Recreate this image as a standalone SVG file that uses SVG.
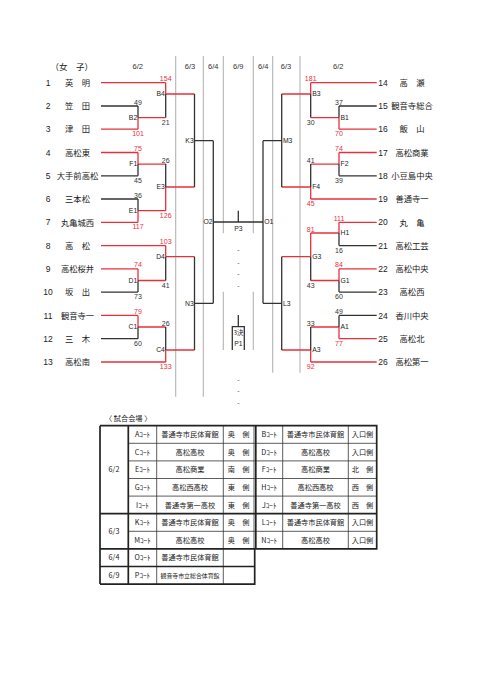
<svg xmlns="http://www.w3.org/2000/svg" width="481" height="680" viewBox="0 0 481 680">
<style>
.bg{fill:#fff}
.grid{stroke:#b4b4b4;stroke-width:1.1;fill:none}
.blk{stroke:#333;stroke-width:1.3;fill:none}
.red{stroke:#e8303a;stroke-width:1.3;fill:none}
.num{font-family:"Liberation Sans",Arial,sans-serif;font-size:8.5px;fill:#222;text-anchor:middle}
.name{font-family:"Noto Sans CJK JP",sans-serif;font-size:8.3px;fill:#222;text-anchor:middle}
.hdr{font-family:"Liberation Sans",Arial,sans-serif;font-size:7.5px;fill:#333;text-anchor:middle}
.sc{font-family:"Liberation Sans Narrow","Liberation Sans",Arial,sans-serif;font-size:7px;fill:#333;text-anchor:middle}
.sr{fill:#e8303a}
.ml{font-family:"Liberation Sans Narrow","Liberation Sans",Arial,sans-serif;font-size:6.8px;fill:#222;text-anchor:end}
.mr{font-family:"Liberation Sans Narrow","Liberation Sans",Arial,sans-serif;font-size:6.8px;fill:#222;text-anchor:start}
.mc{font-family:"Liberation Sans Narrow","Liberation Sans",Arial,sans-serif;font-size:6.8px;fill:#222;text-anchor:middle}
.dash{font-family:"Liberation Sans",Arial,sans-serif;font-size:7px;fill:#555;text-anchor:middle}
.tb{font-family:"Noto Sans CJK JP",sans-serif;font-size:7.2px;fill:#222;text-anchor:middle}
.tbs{font-family:"Noto Sans CJK JP",sans-serif;font-size:5.9px;fill:#222;text-anchor:middle}
.tl{stroke:#333;stroke-width:0.8;fill:none}
.tt{stroke:#222;stroke-width:1.7;fill:none}
</style>
<rect class="bg" x="0" y="0" width="481" height="680"/>

<g id="header">
<text x="71.7" y="69.5" style="font-family:'Noto Sans CJK JP',sans-serif;font-size:8.5px;fill:#222;text-anchor:middle">（女　子）</text>
<text class="hdr" x="137.7" y="69.3">6/2</text>
<text class="hdr" x="190" y="69.3">6/3</text>
<text class="hdr" x="213.3" y="69.3">6/4</text>
<text class="hdr" x="238.3" y="69.3">6/9</text>
<text class="hdr" x="263.3" y="69.3">6/4</text>
<text class="hdr" x="286" y="69.3">6/3</text>
<text class="hdr" x="338.3" y="69.3">6/2</text>
</g>

<g id="grid">
<path class="grid" d="M175.7,56V396.7M203.3,56V396.7M223.3,56V233.3M223.3,291.7V350M253.3,56V233.3M253.3,291.7V350M272.7,56V372.7M300,56V372.7"/>
</g>

<g id="connectors">
<!-- left team lines -->
<path class="red" d="M101,82.7H165.7M101,129.2H138M101,152.5H138M101,222.3H138M101,245.6H165.7M101,268.9H138M101,315.4H138M101,362H165.7"/>
<path class="blk" d="M101,106H138M101,175.8H138M101,199H138M101,292.1H138M101,338.7H138"/>
<!-- left round 1/2 -->
<path class="red" d="M138,117.6V129.2M138,117.6H165.7M165.7,82.7V94M165.7,94H194.5M138,152.5V164.1M138,164.1H165.7M138,210.7V222.3M138,210.7H165.7M165.7,187V210.7M165.7,187H194.5M138,268.9V280.5M138,280.5H165.7M165.7,245.6V256.7M165.7,256.7H194.5M138,315.4V327M138,327H165.7M165.7,350V362M165.7,350H194.5"/>
<path class="blk" d="M138,106V117.6M165.7,94V117.6M138,164.1V175.8M138,199V210.7M165.7,164.1V187M138,280.5V292.1M165.7,256.7V280.5M138,327V338.7M165.7,327V350"/>
<!-- left later rounds -->
<path class="blk" d="M194.5,94V187M194.5,140.7H213.3M194.5,256.7V350M194.5,303.3H213.3M213.3,140.7V303.3M213.3,222H263M238.3,210.7V222"/>
<!-- right team lines -->
<path class="red" d="M376.7,82.7H310.7M376.7,129.2H339M376.7,152.5H339M376.7,199H310.7M376.7,222.3H339M376.7,268.9H339M376.7,338.7H339M376.7,362H310.7"/>
<path class="blk" d="M376.7,106H339M376.7,175.8H339M376.7,245.6H339M376.7,292.1H339M376.7,315.4H339"/>
<!-- right round 1/2 -->
<path class="red" d="M339,117.6V129.2M339,117.6H310.7M310.7,82.7V94M310.7,94H281.7M339,152.5V164.1M339,164.1H310.7M310.7,187V199M310.7,187H281.7M339,222.3V233M339,233H310.7M339,268.9V280.5M339,280.5H310.7M310.7,233V256.7M310.7,256.7H281.7M339,327V338.7M339,327H310.7M310.7,350V362M310.7,350H281.7"/>
<path class="blk" d="M339,106V117.6M310.7,94V117.6M339,164.1V175.8M310.7,164.1V187M339,233V245.6M339,280.5V292.1M310.7,256.7V280.5M339,315.4V327M310.7,327V350"/>
<!-- right later rounds -->
<path class="blk" d="M281.7,94V187M281.7,140.7H263M281.7,256.7V350M281.7,303.3H263M263,140.7V303.3"/>
<!-- third place -->
<path class="blk" d="M238.3,315V326.7M232.3,350V326.7H244.3V350"/>
</g>

<g id="team-1"><text class="num" x="48" y="85.8">1</text><text class="name" x="77.5" y="85.9">英　明</text></g>
<g id="team-2"><text class="num" x="48" y="109.1">2</text><text class="name" x="77.5" y="109.2">笠　田</text></g>
<g id="team-3"><text class="num" x="48" y="132.3">3</text><text class="name" x="77.5" y="132.4">津　田</text></g>
<g id="team-4"><text class="num" x="48" y="155.6">4</text><text class="name" x="77.5" y="155.7">高松東</text></g>
<g id="team-5"><text class="num" x="48" y="178.9">5</text><text class="name" x="77.5" y="179">大手前高松</text></g>
<g id="team-6"><text class="num" x="48" y="202.1">6</text><text class="name" x="77.5" y="202.2">三本松</text></g>
<g id="team-7"><text class="num" x="48" y="225.4">7</text><text class="name" x="77.5" y="225.5">丸亀城西</text></g>
<g id="team-8"><text class="num" x="48" y="248.7">8</text><text class="name" x="77.5" y="248.8">高　松</text></g>
<g id="team-9"><text class="num" x="48" y="272">9</text><text class="name" x="77.5" y="272.1">高松桜井</text></g>
<g id="team-10"><text class="num" x="48" y="295.2">10</text><text class="name" x="77.5" y="295.3">坂　出</text></g>
<g id="team-11"><text class="num" x="48" y="318.5">11</text><text class="name" x="77.5" y="318.6">観音寺一</text></g>
<g id="team-12"><text class="num" x="48" y="341.8">12</text><text class="name" x="77.5" y="341.9">三　木</text></g>
<g id="team-13"><text class="num" x="48" y="365.1">13</text><text class="name" x="77.5" y="365.2">高松南</text></g>

<g id="team-14"><text class="num" x="383" y="85.8">14</text><text class="name" x="412" y="85.9">高　瀬</text></g>
<g id="team-15"><text class="num" x="383" y="109.1">15</text><text class="name" x="412" y="109.2">観音寺総合</text></g>
<g id="team-16"><text class="num" x="383" y="132.3">16</text><text class="name" x="412" y="132.4">飯　山</text></g>
<g id="team-17"><text class="num" x="383" y="155.6">17</text><text class="name" x="412" y="155.7">高松商業</text></g>
<g id="team-18"><text class="num" x="383" y="178.9">18</text><text class="name" x="412" y="179">小豆島中央</text></g>
<g id="team-19"><text class="num" x="383" y="202.1">19</text><text class="name" x="412" y="202.2">善通寺一</text></g>
<g id="team-20"><text class="num" x="383" y="225.4">20</text><text class="name" x="412" y="225.5">丸　亀</text></g>
<g id="team-21"><text class="num" x="383" y="248.7">21</text><text class="name" x="412" y="248.8">高松工芸</text></g>
<g id="team-22"><text class="num" x="383" y="272">22</text><text class="name" x="412" y="272.1">高松中央</text></g>
<g id="team-23"><text class="num" x="383" y="295.2">23</text><text class="name" x="412" y="295.3">高松西</text></g>
<g id="team-24"><text class="num" x="383" y="318.5">24</text><text class="name" x="412" y="318.6">香川中央</text></g>
<g id="team-25"><text class="num" x="383" y="341.8">25</text><text class="name" x="412" y="341.9">高松北</text></g>
<g id="team-26"><text class="num" x="383" y="365.1">26</text><text class="name" x="412" y="365.2">高松第一</text></g>

<g id="match-B2"><text class="ml" x="137.2" y="119.9">B2</text><text class="sc" x="138" y="104.5">49</text><text class="sc sr" x="138" y="136.2">101</text></g>
<g id="match-B4"><text class="ml" x="164.9" y="96.3">B4</text><text class="sc sr" x="165.7" y="81.2">154</text><text class="sc" x="165.7" y="124.6">21</text></g>
<g id="match-F1"><text class="ml" x="137.2" y="166.4">F1</text><text class="sc sr" x="138" y="151">75</text><text class="sc" x="138" y="182.8">45</text></g>
<g id="match-E1"><text class="ml" x="137.2" y="213">E1</text><text class="sc" x="138" y="197.5">36</text><text class="sc sr" x="138" y="229.3">117</text></g>
<g id="match-E3"><text class="ml" x="164.9" y="189.3">E3</text><text class="sc" x="165.7" y="162.6">26</text><text class="sc sr" x="165.7" y="217.7">126</text></g>
<g id="match-D1"><text class="ml" x="137.2" y="282.8">D1</text><text class="sc sr" x="138" y="267.4">74</text><text class="sc" x="138" y="299.1">73</text></g>
<g id="match-D4"><text class="ml" x="164.9" y="259">D4</text><text class="sc sr" x="165.7" y="244.1">103</text><text class="sc" x="165.7" y="287.5">41</text></g>
<g id="match-C1"><text class="ml" x="137.2" y="329.3">C1</text><text class="sc sr" x="138" y="313.9">79</text><text class="sc" x="138" y="345.7">60</text></g>
<g id="match-C4"><text class="ml" x="164.9" y="352.3">C4</text><text class="sc" x="165.7" y="325.5">26</text><text class="sc sr" x="165.7" y="369">133</text></g>
<g id="match-K3"><text class="ml" x="193.7" y="143">K3</text></g>
<g id="match-N3"><text class="ml" x="193.7" y="305.6">N3</text></g>
<g id="match-O2"><text class="ml" x="212.5" y="224.3">O2</text></g>
<g id="match-P3"><text class="mc" x="238.3" y="230.5">P3</text></g>

<g id="match-B1"><text class="mr" x="340.5" y="119.9">B1</text><text class="sc" x="339" y="104.5">37</text><text class="sc sr" x="339" y="136.2">70</text></g>
<g id="match-B3"><text class="mr" x="312.2" y="96.3">B3</text><text class="sc sr" x="310.7" y="81.2">181</text><text class="sc" x="310.7" y="124.6">30</text></g>
<g id="match-F2"><text class="mr" x="340.5" y="166.4">F2</text><text class="sc sr" x="339" y="151">74</text><text class="sc" x="339" y="182.8">39</text></g>
<g id="match-F4"><text class="mr" x="312.2" y="189.3">F4</text><text class="sc" x="310.7" y="162.6">41</text><text class="sc sr" x="310.7" y="206">45</text></g>
<g id="match-H1"><text class="mr" x="340.5" y="235.3">H1</text><text class="sc sr" x="339" y="220.8">111</text><text class="sc" x="339" y="252.6">16</text></g>
<g id="match-G1"><text class="mr" x="340.5" y="282.8">G1</text><text class="sc sr" x="339" y="267.4">84</text><text class="sc" x="339" y="299.1">60</text></g>
<g id="match-G3"><text class="mr" x="312.2" y="259">G3</text><text class="sc sr" x="310.7" y="231.5">81</text><text class="sc" x="310.7" y="287.5">43</text></g>
<g id="match-A1"><text class="mr" x="340.5" y="329.3">A1</text><text class="sc" x="339" y="313.9">49</text><text class="sc sr" x="339" y="345.7">77</text></g>
<g id="match-A3"><text class="mr" x="312.2" y="352.3">A3</text><text class="sc" x="310.7" y="325.5">33</text><text class="sc sr" x="310.7" y="369">92</text></g>
<g id="match-M3"><text class="mr" x="282.9" y="143">M3</text></g>
<g id="match-L3"><text class="mr" x="282.9" y="305.6">L3</text></g>
<g id="match-O1"><text class="mr" x="264.2" y="224.3">O1</text></g>
<g id="match-P1"><text class="mc" x="238.3" y="334.5" style="font-family:'Noto Sans CJK JP',sans-serif;font-size:6.3px">3決</text><text class="mc" x="238.3" y="346.3">P1</text></g>

<g id="dashes">
<text class="dash" x="238.3" y="252.3">-</text>
<text class="dash" x="238.3" y="264.6">-</text>
<text class="dash" x="238.3" y="276.3">-</text>
<text class="dash" x="238.3" y="288">-</text>
<text class="dash" x="238.3" y="381.6">-</text>
<text class="dash" x="238.3" y="393">-</text>
<text class="dash" x="238.3" y="405">-</text>
</g>

<g id="venue-table">
<text x="105" y="421" style="font-family:'Noto Sans CJK JP',sans-serif;font-size:7.2px;fill:#222">〈 試合会場 〉</text>
<!-- thin lines -->
<path class="tl" d="M128.3,443.3H376.7M128.3,460.9H376.7M128.3,478.5H376.7M128.3,496.1H376.7M128.3,531.3H376.7M156.7,425.7V584.1M223.3,425.7V584.1M282.7,425.7V548.9M348.3,425.7V548.9M254,425.7V548.9"/>
<!-- thick lines -->
<path class="tt" d="M100,425.7H376.7V548.9H254.7M100,513.7H376.7M100,548.9H254.7M100,566.5H254.7M100,584.1H254.7V548.9M100,425.7V584.1M128.3,425.7V584.1M255.8,425.7V548.9"/>
<text class="tb" x="114" y="472.4">6/2</text>
<text class="tb" x="114" y="534.4">6/3</text>
<text class="tb" x="114" y="560.3">6/4</text>
<text class="tb" x="114" y="577.9">6/9</text>

<text class="tb" x="142.5" y="437.2">Aｺｰﾄ</text>
<text class="tb" x="142.5" y="454.8">Cｺｰﾄ</text>
<text class="tb" x="142.5" y="472.4">Eｺｰﾄ</text>
<text class="tb" x="142.5" y="490">Gｺｰﾄ</text>
<text class="tb" x="142.5" y="507.6">Iｺｰﾄ</text>
<text class="tb" x="142.5" y="525.2">Kｺｰﾄ</text>
<text class="tb" x="142.5" y="542.8">Mｺｰﾄ</text>
<text class="tb" x="142.5" y="560.4">Oｺｰﾄ</text>
<text class="tb" x="142.5" y="578">Pｺｰﾄ</text>

<text class="tb" x="190" y="437.2">善通寺市民体育館</text>
<text class="tb" x="190" y="454.8">高松高校</text>
<text class="tb" x="190" y="472.4">高松商業</text>
<text class="tb" x="190" y="490">高松西高校</text>
<text class="tb" x="190" y="507.6">善通寺第一高校</text>
<text class="tb" x="190" y="525.2">善通寺市民体育館</text>
<text class="tb" x="190" y="542.8">高松高校</text>
<text class="tb" x="190" y="560.4">善通寺市民体育館</text>
<text class="tbs" x="190" y="577.6">観音寺市立総合体育館</text>

<text class="tb" x="238.6" y="437.2">奥　側</text>
<text class="tb" x="238.6" y="454.8">奥　側</text>
<text class="tb" x="238.6" y="472.4">南　側</text>
<text class="tb" x="238.6" y="490">東　側</text>
<text class="tb" x="238.6" y="507.6">東　側</text>
<text class="tb" x="238.6" y="525.2">奥　側</text>
<text class="tb" x="238.6" y="542.8">奥　側</text>

<text class="tb" x="269.2" y="437.2">Bｺｰﾄ</text>
<text class="tb" x="269.2" y="454.8">Dｺｰﾄ</text>
<text class="tb" x="269.2" y="472.4">Fｺｰﾄ</text>
<text class="tb" x="269.2" y="490">Hｺｰﾄ</text>
<text class="tb" x="269.2" y="507.6">Jｺｰﾄ</text>
<text class="tb" x="269.2" y="525.2">Lｺｰﾄ</text>
<text class="tb" x="269.2" y="542.8">Nｺｰﾄ</text>

<text class="tb" x="315.5" y="437.2">善通寺市民体育館</text>
<text class="tb" x="315.5" y="454.8">高松高校</text>
<text class="tb" x="315.5" y="472.4">高松商業</text>
<text class="tb" x="315.5" y="490">高松西高校</text>
<text class="tb" x="315.5" y="507.6">善通寺第一高校</text>
<text class="tb" x="315.5" y="525.2">善通寺市民体育館</text>
<text class="tb" x="315.5" y="542.8">高松高校</text>

<text class="tb" x="362.5" y="437.2">入口側</text>
<text class="tb" x="362.5" y="454.8">入口側</text>
<text class="tb" x="362.5" y="472.4">北　側</text>
<text class="tb" x="362.5" y="490">西　側</text>
<text class="tb" x="362.5" y="507.6">西　側</text>
<text class="tb" x="362.5" y="525.2">入口側</text>
<text class="tb" x="362.5" y="542.8">入口側</text>
</g>
</svg>
